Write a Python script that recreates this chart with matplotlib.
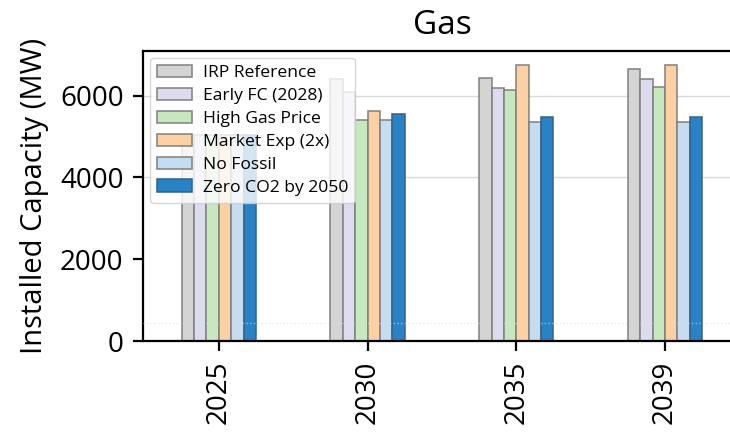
import numpy as np
import matplotlib
matplotlib.use("Agg")
import matplotlib.pyplot as plt

plt.rcParams["font.family"] = ["Open Sans", "DejaVu Sans"]

years = ["2025", "2030", "2035", "2039"]
scenarios = ["IRP Reference", "Early FC (2028)", "High Gas Price",
             "Market Exp (2x)", "No Fossil", "Zero CO2 by 2050"]

irp_reference = [5050, 6400, 6440, 6650]
early_fc = [5050, 6100, 6190, 6410]
high_gas_price = [5050, 5410, 6130, 6220]
market_exp = [5050, 5625, 6750, 6755]
no_fossil = [5050, 5410, 5350, 5350]
zero_co2 = [5050, 5540, 5475, 5475]

series = [irp_reference, early_fc, high_gas_price, market_exp, no_fossil, zero_co2]
face_colors = ["#d4d4d4", "#dcdcee", "#c5e8bf", "#fdd1a3", "#c6dcf0", "#2a82c6"]
edge_colors = ["#808080", "#808080", "#808080", "#808080", "#808080", "#3a5f80"]

guide_levels = [4000, 6000]
floor_line = 450

fig = plt.figure(figsize=(3.65, 2.16), dpi=200)
ax = fig.add_axes([0.1959, 0.2106, 0.819, 0.6714])

x = np.arange(len(years))
n = len(series)
bar_w = 0.5 / n
for i, (vals, fc, ec, name) in enumerate(zip(series, face_colors, edge_colors, scenarios)):
    offset = (i - (n - 1) / 2) * bar_w
    ax.bar(x + offset, vals, width=bar_w, color=fc, edgecolor=ec,
           linewidth=0.55, label=name, zorder=2)

for lvl in guide_levels:
    ax.axhline(lvl, color="#d8d8d8", linewidth=0.5, zorder=0)
ax.axhline(floor_line, color="#dddddd", linewidth=0.5, linestyle=":", alpha=0.6, zorder=3)

ax.set_xlim(-0.51, 3.51)
ax.set_xticks(x)
ax.set_xticklabels(years, rotation=90, fontsize=10)
ax.set_yticks([0, 2000, 4000, 6000])
ax.tick_params(axis="y", labelsize=10)
ax.set_ylabel("Installed Capacity (MW)", fontsize=10.5)
ax.set_title("Gas", fontsize=12)

leg = ax.legend(loc="upper left", fontsize=6.3, labelspacing=0.38,
                framealpha=0.8, borderaxespad=0.4, handletextpad=0.6)
leg.get_frame().set_linewidth(0.5)

fig.savefig("out.png", dpi=200)
